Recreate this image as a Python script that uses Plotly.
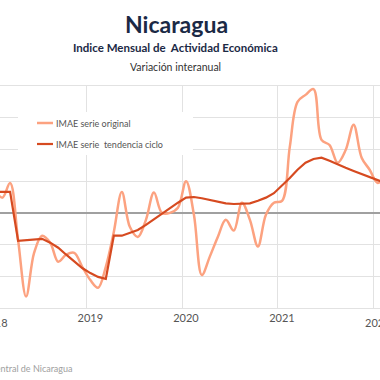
import pandas as pd
import plotly.graph_objects as go

# ---- data (monthly, Jan 2018 .. Feb 2022), year-on-year % change ----
months = pd.date_range("2018-01-01", periods=50, freq="MS")

imae_original = [
    3.6, 2.4, 4.7, -4.3, -13.2, -6.3, -3.6, -4.7, -7.7, -6.6,
    -6.3, -8.5, -10.6, -11.8, -8.5, -3.0, 3.3, -2.2, -3.8, -1.1,
    3.2, 0.0, 0.0, 0.8, 5.0, -0.3, -9.8, -6.9, -3.8, -1.1,
    -2.8, 1.6, -1.1, -5.3, -0.3, 1.6, 1.9, 10.4, 17.5, 18.6,
    19.5, 11.5, 10.7, 7.9, 9.9, 13.9, 8.7, 6.8, 4.7, 6.0,
]

imae_tendencia = [
    3.3, 3.3, 3.3, -4.4, -4.3, -4.1, -4.1, -4.7, -5.5, -6.6,
    -7.7, -8.7, -9.5, -10.1, -10.4, -3.6, -3.6, -3.2, -2.7, -1.9,
    -1.0, -0.2, 0.8, 1.6, 2.4, 2.5, 2.3, 2.0, 1.7, 1.5,
    1.4, 1.4, 1.5, 1.9, 2.4, 3.1, 4.3, 5.5, 6.8, 7.9,
    8.5, 8.7, 8.2, 7.6, 7.1, 6.6, 6.1, 5.7, 5.2, 4.7,
]

series_names = ["IMAE serie original", "IMAE serie  tendencia ciclo"]
year_labels = ["2018", "2019", "2020", "2021", "2022"]

# ---- styling ----
C_ORIG = "rgb(252,162,128)"
C_TEND = "rgb(214,74,32)"
NAVY = "#1b2945"
FONT = "Lato"

W, H = 380, 380
M_T, M_B = 86, 72
PLOT_H = H - M_T - M_B


def px_x(x):
    return x / W


def px_y(y):
    return (H - M_B - y) / PLOT_H


fig = go.Figure()
fig.add_trace(go.Scatter(
    x=months, y=imae_original, name=series_names[0], mode="lines",
    line=dict(color=C_ORIG, width=2.5, shape="spline", smoothing=1.0),
    xperiod="M1", xperiodalignment="middle", showlegend=False,
))
fig.add_trace(go.Scatter(
    x=months, y=imae_tendencia, name=series_names[1], mode="lines",
    line=dict(color=C_TEND, width=2.2),
    xperiod="M1", xperiodalignment="middle", showlegend=False,
))

shapes = [
    dict(type="rect", xref="paper", yref="paper",
         x0=px_x(18), x1=px_x(193), y0=px_y(155), y1=px_y(112),
         fillcolor="white", line=dict(width=0), layer="above"),
    dict(type="line", xref="paper", yref="paper",
         x0=px_x(37), x1=px_x(53), y0=px_y(123), y1=px_y(123),
         line=dict(color=C_ORIG, width=2.5), layer="above"),
    dict(type="line", xref="paper", yref="paper",
         x0=px_x(37), x1=px_x(53), y0=px_y(144), y1=px_y(144),
         line=dict(color=C_TEND, width=2.2), layer="above"),
]

axis_font = dict(family=FONT, size=11, color="#555555")

annotations = [
    dict(text="<b>Nicaragua</b>", x=px_x(176), y=px_y(24), xref="paper", yref="paper",
         showarrow=False, xanchor="center", yanchor="middle",
         font=dict(family=FONT, size=23, color=NAVY)),
    dict(text="<b>Indice Mensual de  Actividad Económica</b>", x=px_x(175), y=px_y(47),
         xref="paper", yref="paper", showarrow=False, xanchor="center", yanchor="middle",
         font=dict(family=FONT, size=11.5, color=NAVY)),
    dict(text="Variación interanual", x=px_x(175), y=px_y(67), xref="paper", yref="paper",
         showarrow=False, xanchor="center", yanchor="middle",
         font=dict(family=FONT, size=10.5, color="#333333")),
    dict(text=series_names[0], x=px_x(54), y=px_y(123), xref="paper", yref="paper",
         showarrow=False, xanchor="left", yanchor="middle",
         font=dict(family=FONT, size=9, color="#555555")),
    dict(text=series_names[1], x=px_x(54), y=px_y(144), xref="paper", yref="paper",
         showarrow=False, xanchor="left", yanchor="middle",
         font=dict(family=FONT, size=9, color="#555555")),
    # year labels whose centres fall at / beyond the cropped edges
    dict(text=year_labels[0], x=px_x(-5.5), y=px_y(322), xref="paper", yref="paper",
         showarrow=False, xanchor="center", yanchor="middle", font=axis_font),
    dict(text=year_labels[4], x=px_x(377.6), y=px_y(322), xref="paper", yref="paper",
         showarrow=False, xanchor="center", yanchor="middle", font=axis_font),
    dict(text="Fuente: Banco Central de Nicaragua", x=px_x(75), y=px_y(368),
         xref="paper", yref="paper", showarrow=False, xanchor="right", yanchor="middle",
         font=dict(family=FONT, size=9, color="#a0a0a0")),
]

fig.update_layout(
    width=W, height=H,
    margin=dict(l=0, r=0, t=M_T, b=M_B, pad=0),
    paper_bgcolor="white", plot_bgcolor="white",
    font=dict(family=FONT, color="#555555"),
    shapes=shapes, annotations=annotations,
    xaxis=dict(
        range=["2018-02-06", "2022-01-25"],
        tickmode="array",
        tickvals=[f"{y}-01-01" for y in year_labels],
        ticktext=year_labels,
        ticklabelshift=4,
        showgrid=True, gridcolor="#e2e2e2", gridwidth=1,
        showline=True, linecolor="#e2e2e2", linewidth=1, mirror=True,
        ticks="", tickfont=axis_font,
        zeroline=False,
    ),
    yaxis=dict(
        range=[-15, 20], dtick=5, tick0=0,
        showgrid=True, gridcolor="#e2e2e2", gridwidth=1,
        zeroline=True, zerolinecolor="#a0a0a0", zerolinewidth=1.5,
        showticklabels=False, ticks="", showline=False,
    ),
)

fig.write_html(
    "out.html",
    config={"displayModeBar": False},
    post_script=(
        "document.documentElement.style.overflow='hidden';"
        "document.body.style.margin='0';document.body.style.overflow='hidden';"
    ),
)
